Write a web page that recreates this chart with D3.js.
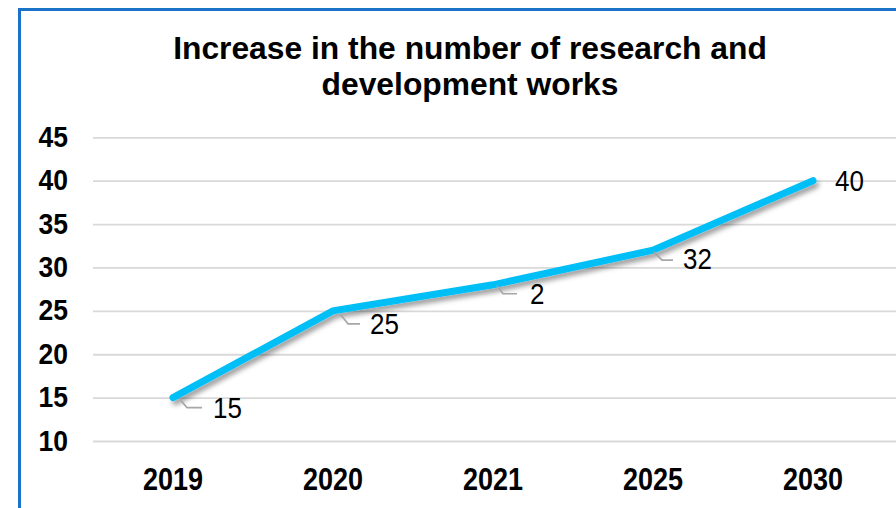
<!DOCTYPE html>
<html>
<head>
<meta charset="utf-8">
<script src="https://cdn.jsdelivr.net/npm/d3@7"></script>
<style>
  html, body { margin: 0; padding: 0; background: #fff; }
  svg { display: block; font-family: "Liberation Sans", Arial, sans-serif; }
</style>
</head>
<body>
<svg id="chart" width="896" height="508"></svg>
<script>
// Chart data
const years = ["2019", "2020", "2021", "2025", "2030"];
const works = [15, 25, 28, 32, 40];
const pointLabels = ["15", "25", "2", "32", "40"];
const yTicks = [10, 15, 20, 25, 30, 35, 40, 45];
const titleLines = ["Increase in the number of research and", "development works"];

const svg = d3.select("#chart");
const W = 896, H = 508;
const plot = { left: 93, right: 893, top: 137.3, bottom: 441 };
const TEXT_STRETCH = 1.12; // glyphs render slightly taller than wide

const x = d3.scaleBand().domain(years).range([plot.left, plot.right]);
const y = d3.scaleLinear().domain([10, 45]).range([plot.bottom, plot.top]);
const cx = d => x(d) + x.bandwidth() / 2;

// drop shadow for the series line
const defs = svg.append("defs");
const f = defs.append("filter").attr("id", "shadow")
  .attr("x", "-10%").attr("y", "-20%").attr("width", "120%").attr("height", "150%");
f.append("feDropShadow").attr("dx", 2.5).attr("dy", 4).attr("stdDeviation", 2.6)
  .attr("flood-color", "#000").attr("flood-opacity", 0.38);

// outer frame
svg.append("rect").attr("x", 19.5).attr("y", 9.5).attr("width", 920).attr("height", 540)
  .attr("fill", "#fff").attr("stroke", "#1a73c6").attr("stroke-width", 3);

// helper: stretched text
function stretchedText(g, tx, ty, str, size, weight, anchor, sy) {
  return g.append("text")
    .attr("transform", `translate(${tx},${ty}) scale(1,${sy || TEXT_STRETCH})`)
    .attr("text-anchor", anchor)
    .attr("font-size", size).attr("font-weight", weight)
    .attr("fill", "#000").text(str);
}

// title
const tg = svg.append("g");
titleLines.forEach((t, i) => stretchedText(tg, 470, 59 + i * 36, t, 31.8, "bold", "middle", 1.0));

// gridlines + y axis
const yAxis = d3.axisLeft(y).tickValues(yTicks).tickSize(-(W + 20 - plot.left)).tickFormat("");
const yg = svg.append("g").attr("transform", `translate(${plot.left},0)`).call(yAxis);
yg.select(".domain").remove();
yg.selectAll(".tick line").attr("stroke", "#d9d9d9").attr("stroke-width", 1.8);

const ylg = svg.append("g");
yTicks.forEach(v => stretchedText(ylg, 68, y(v) + 9.5, String(v), 26.5, "bold", "end", 1.08));

// x axis labels
const xAxis = d3.axisBottom(x).tickSize(0).tickFormat("");
const xg = svg.append("g").attr("transform", `translate(0,${plot.bottom})`).call(xAxis);
xg.select(".domain").remove();
const xlg = svg.append("g");
years.forEach(yr => stretchedText(xlg, cx(yr), 489.5, yr, 27, "bold", "middle", 1.14));

// series line
const line = d3.line().x((d, i) => cx(years[i])).y(d => y(d));
svg.append("path").datum(works)
  .attr("d", line)
  .attr("fill", "none")
  .attr("stroke", "#00BFF7")
  .attr("stroke-width", 7)
  .attr("stroke-linejoin", "miter")
  .attr("stroke-linecap", "round")
  .attr("filter", "url(#shadow)");

// data labels with leader lines (offsets relative to the point)
const labelOffsets = [
  { dx: 40, dy: 20, leader: [[8, 3], [14, 10], [29, 10]] },
  { dx: 37, dy: 23, leader: [[7, 3], [15, 13], [27, 13]] },
  { dx: 37, dy: 19, leader: [[4, 1], [10, 9], [24, 9]] },
  { dx: 30, dy: 19, leader: [[1, 2], [9, 10], [20, 10]] },
  { dx: 22, dy: 10, leader: null }
];
const lg = svg.append("g");
works.forEach((v, i) => {
  const px = cx(years[i]), py = y(v);
  const o = labelOffsets[i];
  if (o.leader) {
    lg.append("path")
      .attr("d", d3.line()(o.leader.map(p => [px + p[0], py + p[1]])))
      .attr("fill", "none").attr("stroke", "#a6a6a6").attr("stroke-width", 1.6);
  }
  stretchedText(lg, px + o.dx, py + o.dy, pointLabels[i], 26, "normal", "start");
});
</script>
</body>
</html>
